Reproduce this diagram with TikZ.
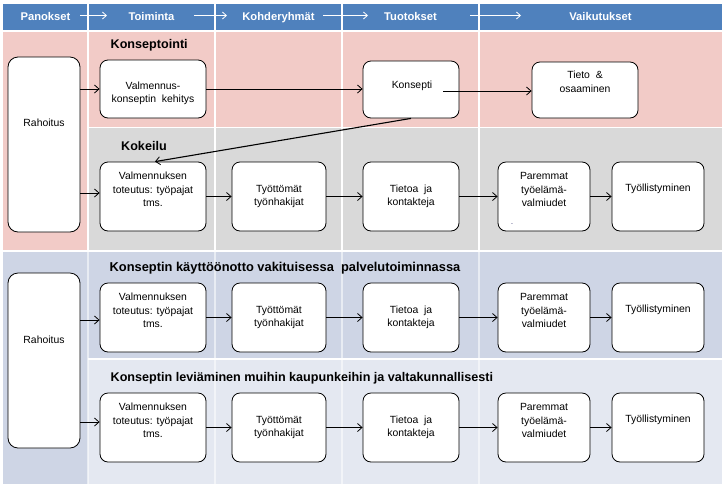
\documentclass[tikz,border=0pt]{standalone}
\usepackage{fontspec}
\setmainfont{Liberation Sans}
\usetikzlibrary{arrows.meta,calc}
\definecolor{hdr}{HTML}{4F81BD}
\definecolor{pinkc}{HTML}{F2CBC7}
\definecolor{grayc}{HTML}{D9D9D9}
\definecolor{bluec}{HTML}{CED5E5}
\definecolor{lbluec}{HTML}{E4E8F1}
\begin{document}
\begin{tikzpicture}[x=1pt,y=-1pt,
  box/.style={draw=black, fill=white, rounded corners=8pt, line width=0.8pt, inner sep=0pt, minimum height=69pt},
  txt/.style={inner sep=0pt, align=center, font=\fontsize{10.4}{13.5}\selectfont},
  head/.style={inner sep=0pt, anchor=west, font=\fontsize{12.6}{15}\selectfont\bfseries},
  htxt/.style={inner sep=0pt, anchor=base, text=white, font=\fontsize{11.2}{13}\selectfont\bfseries},
  conn/.style={draw=black, line width=0.8pt, -{Straight Barb[length=4.5pt,width=8pt,line width=0.8pt]}},
  harrow/.style={draw=white, line width=0.8pt, -{Straight Barb[length=4pt,width=7pt,line width=0.8pt]}},
  sep/.style={draw=white, line width=1.5pt}
]
\useasboundingbox (0,0) rectangle (725,488);
% backgrounds
\fill[hdr] (3,4) rectangle (722,30);
\fill[pinkc] (3,32) rectangle (722,127);
\fill[pinkc] (3,127) rectangle (88,250.5);
\fill[grayc] (88,127) rectangle (722,250.5);
\fill[bluec] (3,251.5) rectangle (722,359);
\fill[bluec] (3,359) rectangle (88,484);
\fill[lbluec] (88,359) rectangle (722,484);
% separators
\foreach \xx in {88,215,342,479} {\draw[sep] (\xx,4) -- (\xx,250.5);}
\foreach \xx in {88,215,342,479} {\draw[sep, draw opacity=0.55] (\xx,251.5) -- (\xx,484);}
\draw[sep] (88,127.5) -- (722,127.5);
\draw[sep] (3,251) -- (722,251);
\draw[sep] (88,359) -- (722,359);
% header
\node[htxt] (h1) at (45.5,20) {Panokset};
\node[htxt] (h2) at (151.5,20) {Toiminta};
\node[htxt] (h3) at (278.5,20) {Kohderyhmät};
\node[htxt] (h4) at (410.5,20) {Tuotokset};
\node[htxt] (h5) at (600.5,20) {Vaikutukset};
\coordinate (ha1) at (80,15.5); \coordinate (hb1) at (107,15.5);
\coordinate (ha2) at (194,15.5); \coordinate (hb2) at (227,15.5);
\coordinate (ha3) at (323,15.5); \coordinate (hb3) at (368,15.5);
\coordinate (ha4) at (470,15.5); \coordinate (hb4) at (521,15.5);
\draw[harrow] (ha1) -- (hb1);
\draw[harrow] (ha2) -- (hb2);
\draw[harrow] (ha3) -- (hb3);
\draw[harrow] (ha4) -- (hb4);
% headings
\node[head] (k1) at (110.5,45.5) {Konseptointi};
\node[head] (k2) at (121,145.5) {Kokeilu};
\node[head, font=\fontsize{12.85}{15}\selectfont\bfseries] (k3) at (109.5,268.5) {Konseptin käyttöönotto vakituisessa~ palvelutoiminnassa};
\node[head] (k4) at (110.5,378.5) {Konseptin leviäminen muihin kaupunkeihin ja valtakunnallisesti};
% Rahoitus boxes
\node[box, rounded corners=10pt, minimum width=72pt, minimum height=175pt] (r1) at (44,144.5) {};
\node[txt] (r1t) at ($(r1.center)+(0,-21.5)$) {Rahoitus};
\node[box, rounded corners=10pt, minimum width=72pt, minimum height=175pt] (r2) at (44,360.5) {};
\node[txt] (r2t) at ($(r2.center)+(0,-20.5)$) {Rahoitus};
% row 1
\node[box, minimum width=106pt, minimum height=58pt] (vk) at (153,89) {};
\node[txt] (vkt) at ($(vk.center)+(0,4.5)$) {Valmennus-\\konseptin~ kehitys};
\node[box, minimum width=96pt, minimum height=57pt] (kons) at (411,89.5) {};
\node[txt] (konst) at ($(kons.center)+(1,-3.5)$) {Konsepti};
\node[box, minimum width=106pt, minimum height=56pt] (tieto) at (585,90) {};
\node[txt] (tietot) at ($(tieto.center)+(0,-8)$) {Tieto~ \&\\osaaminen};
% rows 2-4
\foreach \r/\yy in {2/196.5,3/317.5,4/427.5} {
  \node[box, minimum width=106pt] (a\r) at (153,\yy) {};
  \node[txt] (a\r t) at ($(a\r.center)+(0,-7)$) {Valmennuksen\\toteutus: työpajat\\tms.};
  \node[box, minimum width=94pt] (b\r) at (279,\yy) {};
  \node[txt] (b\r t) at (b\r.center) {Työttömät\\työnhakijat};
  \node[box, minimum width=96pt] (c\r) at (411,\yy) {};
  \node[txt] (c\r t) at (c\r.center) {Tietoa~ ja\\kontakteja};
  \node[box, minimum width=92pt] (d\r) at (544,\yy) {};
  \node[txt] (d\r t) at ($(d\r.center)+(0,-7)$) {Paremmat\\työelämä-\\valmiudet};
  \node[box, minimum width=92pt] (e\r) at (658,\yy) {};
  \node[txt] (e\r t) at ($(e\r.center)+(0,-7.5)$) {Työllistyminen};
  \draw[conn] (a\r.east) -- (b\r.west);
  \draw[conn] (b\r.east) -- (c\r.west);
  \draw[conn] (c\r.east) -- (d\r.west);
  \draw[conn] (d\r.east) -- (e\r.west);
}
\node[inner sep=0pt, text=black!70!blue, font=\scriptsize] (dot) at (512,224) {.};
% connectors
\draw[conn] (r1.east |- vk.west) -- (vk.west);
\draw[conn] (vk.east) -- (kons.west |- vk.east);
\coordinate (ks) at ($(kons.center)+(32,1.5)$);
\draw[conn] (ks) -- (tieto.west |- ks);
\draw[conn, line width=1.1pt] (kons.south) -- ($(a2.north)+(2,0)$);
\coordinate (y2) at ($(a2.west)+(0,-3.5)$);
\draw[conn] (r1.east |- y2) -- (y2);
\coordinate (y3) at ($(a3.west)+(0,2.5)$);
\draw[conn] (r2.east |- y3) -- (y3);
\coordinate (y4) at ($(a4.west)+(0,-5.5)$);
\draw[conn] (r2.east |- y4) -- (y4);
\end{tikzpicture}
\end{document}
